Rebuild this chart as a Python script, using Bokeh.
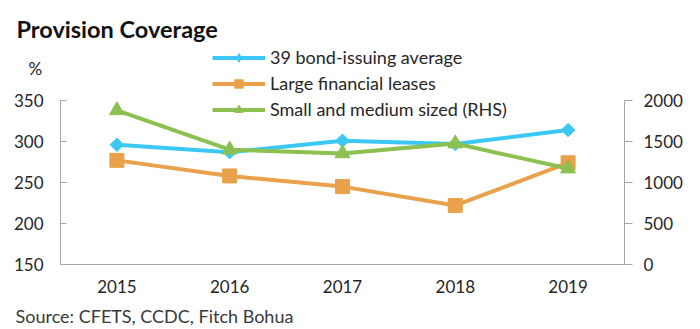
import math
from bokeh.plotting import figure
from bokeh.models import Range1d, LinearAxis, Label, Legend, LegendItem, FixedTicker
from bokeh.embed import file_html
from bokeh.resources import INLINE

years = ["2015", "2016", "2017", "2018", "2019"]
bond_avg = [296, 287, 301, 297, 314]
large_fin = [277, 258, 245, 222, 274]
small_med = [1880, 1400, 1355, 1475, 1170]
left_ticks = [150, 200, 250, 300, 350]
right_ticks = [0, 500, 1000, 1500, 2000]

FONT = "Lato"
BLUE = "#3CC8F4"
ORANGE = "#E9A24B"
GREEN = "#8CC152"
AX = "#A6A6A6"
TXT = "#262626"
FS = "17px"

xs = list(range(len(years)))

# frame covers the whole canvas; axes are pinned with fixed_location
p = figure(x_range=Range1d(-1.032, 5.174), y_range=Range1d(70.73, 471.95),
           width=700, height=329, output_backend="svg", toolbar_location=None,
           x_axis_location=None, y_axis_location=None,
           min_border=0, min_border_left=0, min_border_right=0,
           min_border_top=0, min_border_bottom=0)
p.extra_y_ranges = {"rhs": Range1d(-792.7, 3219.5)}
p.outline_line_color = None
p.grid.visible = False

def style(ax):
    ax.axis_line_color = AX
    ax.major_tick_line_color = AX
    ax.minor_tick_line_color = None
    ax.major_label_text_font = FONT
    ax.major_label_text_font_size = FS
    ax.major_label_text_color = TXT

l_axis = LinearAxis(ticker=FixedTicker(ticks=left_ticks), bounds=(150, 350), fixed_location=-0.5)
style(l_axis)
l_axis.major_tick_in = 6
l_axis.major_tick_out = 0
l_axis.major_label_standoff = 17
p.add_layout(l_axis, "left")

r_axis = LinearAxis(y_range_name="rhs", ticker=FixedTicker(ticks=right_ticks), bounds=(0, 2000),
                    fixed_location=4.5)
style(r_axis)
r_axis.major_tick_in = 0
r_axis.major_tick_out = 8
r_axis.major_label_standoff = 11
p.add_layout(r_axis, "right")

x_axis = LinearAxis(ticker=FixedTicker(ticks=xs), bounds=(-0.5, 4.5), fixed_location=150,
                    major_label_overrides={i: y for i, y in enumerate(years)})
style(x_axis)
x_axis.major_tick_line_color = None
x_axis.major_label_standoff = 10
p.add_layout(x_axis, "below")

l1 = p.line(xs, bond_avg, color=BLUE, line_width=4)
m1 = p.scatter(xs, bond_avg, marker="square", angle=math.pi / 4, size=9.5, color=BLUE)
l2 = p.line(xs, large_fin, color=ORANGE, line_width=4)
m2 = p.scatter(xs, large_fin, marker="square", size=14, color=ORANGE)
l3 = p.line(xs, small_med, color=GREEN, line_width=4, y_range_name="rhs")
m3 = p.scatter(xs, small_med, marker="triangle", size=15, color=GREEN, y_range_name="rhs")
# legend-only diamond marker (a single non-drawn NaN point)
m1_leg = p.scatter([math.nan], [math.nan], marker="diamond", size=12, color=BLUE)

legend = Legend(items=[
    LegendItem(label="39 bond-issuing average", renderers=[l1, m1_leg]),
    LegendItem(label="Large financial leases", renderers=[l2, m2]),
    LegendItem(label="Small and medium sized (RHS)", renderers=[l3, m3]),
], location=(212, 209), background_fill_alpha=0, border_line_color=None,
    label_text_font=FONT, label_text_font_size="18px", label_text_color=TXT,
    glyph_width=53, glyph_height=21, label_height=21, spacing=4, padding=0, margin=0,
    label_standoff=5)
p.add_layout(legend)

p.add_layout(Label(x=16, y=329 - 28, x_units="screen", y_units="screen", text="Provision Coverage",
                   text_font=FONT, text_font_size="23.5px", text_font_style="bold",
                   text_color="#111111", text_baseline="alphabetic"))
p.add_layout(Label(x=28, y=329 - 68, x_units="screen", y_units="screen", text="%",
                   text_font=FONT, text_font_size=FS, text_color=TXT, text_baseline="alphabetic"))
p.add_layout(Label(x=15, y=329 - 315, x_units="screen", y_units="screen",
                   text="Source: CFETS, CCDC, Fitch Bohua",
                   text_font=FONT, text_font_size="18px", text_color="#3a3a3a", text_baseline="alphabetic"))

open("out.html", "w").write(file_html(p, INLINE))
